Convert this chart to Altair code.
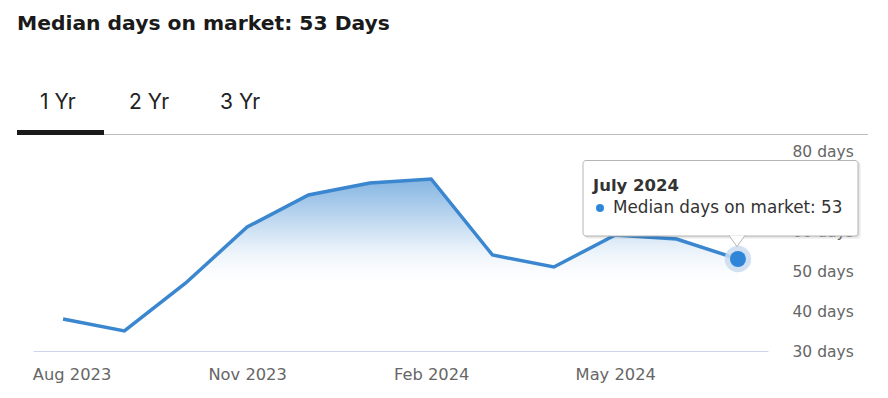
import altair as alt
import pandas as pd

# ---- data ----
months = ["Aug 2023", "Sep 2023", "Oct 2023", "Nov 2023", "Dec 2023", "Jan 2024",
          "Feb 2024", "Mar 2024", "Apr 2024", "May 2024", "Jun 2024", "Jul 2024"]
days = [38, 35, 47, 61, 69, 72, 73, 54, 51, 59, 58, 53]
x_tick_labels = ["Aug 2023", "Nov 2023", "Feb 2024", "May 2024"]
y_ticks = [30, 40, 50, 60, 70, 80]
tabs = ["1 Yr", "2 Yr", "3 Yr"]
title_text = "Median days on market: 53 Days"
tip_title = "July 2024"
tip_text = "Median days on market: 53"

df = pd.DataFrame({"month": months, "days": days})
last = df.iloc[[-1]]

BLUE = "#3a87d0"
W, H = 735, 200

xs = alt.X("month:O", sort=months,
           scale=alt.Scale(type="point", padding=0.49),
           axis=alt.Axis(values=x_tick_labels, labelAngle=0, ticks=False,
                         domainColor="#ccd6eb", domainWidth=1, labelPadding=15,
                         labelColor="#666666", labelFont="DejaVu Sans", labelFontSize=16.3,
                         title=None, grid=False, zindex=0,
                         labelOffset={"condition": {"test": "datum.value == 'Aug 2023'", "value": 8.5}, "value": 0}))
ys = alt.Y("days:Q", scale=alt.Scale(domain=[30, 80], nice=False, zero=False),
           axis=alt.Axis(orient="right", values=y_ticks, labelExpr="datum.value + ' days'",
                         ticks=False, domain=False, grid=False, labelPadding=24,
                         labelColor="#666666", labelFont="DejaVu Sans", labelFontSize=15.5,
                         title=None, zindex=0))

base = alt.Chart(df)

area = base.mark_area(
    color=alt.Gradient(gradient="linear",
                       stops=[alt.GradientStop(color="rgba(58,136,208,0.62)", offset=0),
                              alt.GradientStop(color="rgba(58,136,208,0.12)", offset=0.4),
                              alt.GradientStop(color="rgba(255,255,255,0)", offset=0.66)],
                       x1=0, x2=0, y1=0, y2=1)
).encode(x=xs, y=ys, y2=alt.datum(30))

line = base.mark_line(color=BLUE, strokeWidth=3.5).encode(x=xs, y=ys)

halo = alt.Chart(last).mark_point(shape="circle", filled=True, size=700,
                                  color="#c9dcef", opacity=0.85).encode(x=xs, y=ys)
dot = alt.Chart(last).mark_point(shape="circle", filled=True, size=256,
                                 color="#2f86d8", opacity=1).encode(x=xs, y=ys)

# ---- tooltip box (annotation) ----
one = pd.DataFrame({"k": [0]})
ann = alt.Chart(one)
shadow2 = ann.mark_rect(fill="black", opacity=0.05, cornerRadius=3).encode(
    x=alt.value(552), x2=alt.value(828), y=alt.value(11), y2=alt.value(88))
shadow1 = ann.mark_rect(fill="black", opacity=0.07, cornerRadius=3).encode(
    x=alt.value(551), x2=alt.value(826.5), y=alt.value(10), y2=alt.value(86.5))
box = ann.mark_rect(fill="white", stroke="#b5b5b5", strokeWidth=1, cornerRadius=3).encode(
    x=alt.value(550), x2=alt.value(825), y=alt.value(9.5), y2=alt.value(85))
pointer = ann.mark_point(shape="M -1 -0.8 L 0 0.6 L 1 -0.8", filled=True, fill="white",
                         stroke="#b5b5b5", strokeWidth=1, size=256, opacity=1).encode(
    x=alt.value(704), y=alt.value(90.8))
tip1 = ann.mark_text(text=tip_title, font="DejaVu Sans", fontWeight="bold", fontSize=16.5,
                     color="#333333", align="left", baseline="alphabetic").encode(
    x=alt.value(560), y=alt.value(40))
bullet = ann.mark_point(shape="circle", filled=True, size=64, color="#2f86d8", opacity=1).encode(
    x=alt.value(567), y=alt.value(57))
tip2 = ann.mark_text(text=tip_text, font="DejaVu Sans", fontSize=16.8,
                     color="#333333", align="left", baseline="alphabetic").encode(
    x=alt.value(580), y=alt.value(62))

# ---- header (annotation) ----
title = ann.mark_text(text=title_text, font="DejaVu Sans", fontWeight="bold", fontSize=20.3,
                      color="#1a1a1a", align="left", baseline="alphabetic").encode(
    x=alt.value(-16), y=alt.value(-121))
tab_df = pd.DataFrame({"tab": tabs, "px": [7, 96, 187]})
tab_text = alt.Chart(tab_df).mark_text(font="Inter", fontSize=21, color="#222222",
                                       align="left", baseline="alphabetic").encode(
    text="tab:N", x=alt.X("px:Q", scale=None), y=alt.value(-42))
sep = ann.mark_rule(color="#bdbdbd", strokeWidth=1).encode(
    x=alt.value(-16), x2=alt.value(835), y=alt.value(-16.5))
underline = ann.mark_rect(fill="#1a1a1a").encode(
    x=alt.value(-16), x2=alt.value(71), y=alt.value(-21), y2=alt.value(-16))

chart = alt.layer(
    area, line, halo, dot,
    shadow2, shadow1, box, pointer, tip1, bullet, tip2,
    title, tab_text, sep, underline
).properties(
    width=W, height=H,
    autosize=alt.AutoSizeParams(type="none"),
    padding={"left": 33, "top": 151, "right": 120, "bottom": 47},
    background="white"
).configure_view(stroke=None)

chart.save("out.html", embed_options={"renderer": "svg", "actions": False})
